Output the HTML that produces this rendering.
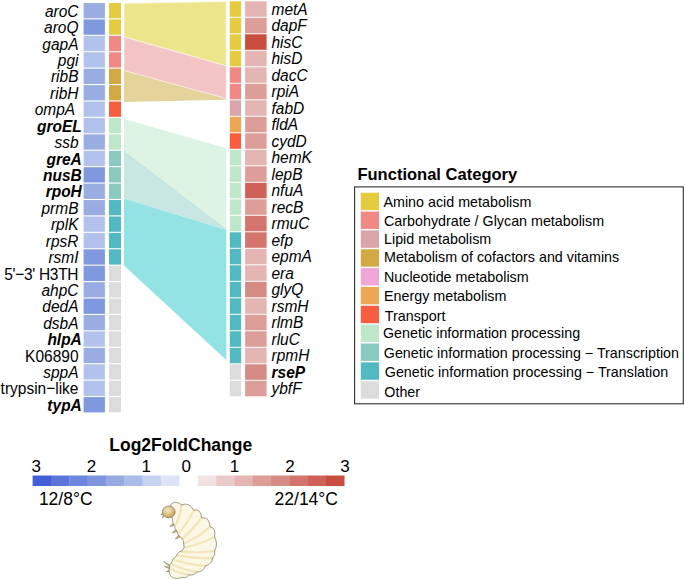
<!DOCTYPE html><html><head><meta charset="utf-8"><style>html,body{margin:0;padding:0;background:#fff;}body{width:685px;height:580px;overflow:hidden;}svg{display:block;}text{font-family:"Liberation Sans", sans-serif;}</style></head><body>
<svg width="685" height="580" viewBox="0 0 685 580">
<rect width="685" height="580" fill="#fff"/>
<polygon points="124.0,3.3 226.3,1.6 226.3,65.9 124.0,36.9" fill="#ECE58C" stroke="#fff" stroke-width="0.5"/>
<polygon points="124.0,70.5 226.3,98.5 226.3,99.7 124.0,102.0" fill="#E5D39C"/>
<polygon points="124.0,36.9 226.3,65.9 226.3,98.5 124.0,70.5" fill="#F2C4C5" stroke="#fff" stroke-width="0.5"/>
<polygon points="124.0,118.9 226.3,148.2 226.3,229.7 124.0,151.7" fill="#DDF3E3"/>
<polygon points="124.0,151.7 226.3,229.7 226.3,229.9 124.0,198.6" fill="#C8E7E3"/>
<polygon points="124.0,198.6 226.3,229.9 226.3,360.0 124.0,265.4" fill="#93E3E4"/>
<line x1="124.0" y1="151.7" x2="226.3" y2="229.7" stroke="#B2DDD6" stroke-width="0.7"/>
<rect x="83.6" y="3.00" width="21.3" height="15.3" fill="#9AADE3"/>
<rect x="109.0" y="3.00" width="12.0" height="15.3" fill="#E5CB3F"/>
<text x="78.50" y="16.80" font-size="15.5" text-anchor="end" font-style="italic" transform="translate(0 16.80) scale(1 1.1) translate(0 -16.80)">aroC</text>
<rect x="83.6" y="19.42" width="21.3" height="15.3" fill="#7F98DE"/>
<rect x="109.0" y="19.42" width="12.0" height="15.3" fill="#E5CB3F"/>
<text x="78.50" y="33.22" font-size="15.5" text-anchor="end" font-style="italic" transform="translate(0 33.22) scale(1 1.1) translate(0 -33.22)">aroQ</text>
<rect x="83.6" y="35.84" width="21.3" height="15.3" fill="#B2C2EC"/>
<rect x="109.0" y="35.84" width="12.0" height="15.3" fill="#F08985"/>
<text x="78.50" y="49.64" font-size="15.5" text-anchor="end" font-style="italic" transform="translate(0 49.64) scale(1 1.1) translate(0 -49.64)">gapA</text>
<rect x="83.6" y="52.26" width="21.3" height="15.3" fill="#B2C2EC"/>
<rect x="109.0" y="52.26" width="12.0" height="15.3" fill="#F08985"/>
<text x="78.50" y="66.06" font-size="15.5" text-anchor="end" font-style="italic" transform="translate(0 66.06) scale(1 1.1) translate(0 -66.06)">pgi</text>
<rect x="83.6" y="68.68" width="21.3" height="15.3" fill="#9AADE3"/>
<rect x="109.0" y="68.68" width="12.0" height="15.3" fill="#D3A944"/>
<text x="78.50" y="82.48" font-size="15.5" text-anchor="end" font-style="italic" transform="translate(0 82.48) scale(1 1.1) translate(0 -82.48)">ribB</text>
<rect x="83.6" y="85.10" width="21.3" height="15.3" fill="#9AADE3"/>
<rect x="109.0" y="85.10" width="12.0" height="15.3" fill="#D3A944"/>
<text x="78.50" y="98.90" font-size="15.5" text-anchor="end" font-style="italic" transform="translate(0 98.90) scale(1 1.1) translate(0 -98.90)">ribH</text>
<rect x="83.6" y="101.52" width="21.3" height="15.3" fill="#B2C2EC"/>
<rect x="109.0" y="101.52" width="12.0" height="15.3" fill="#F75D3E"/>
<text x="75.20" y="115.32" font-size="15.5" text-anchor="end" font-style="italic" transform="translate(0 115.32) scale(1 1.1) translate(0 -115.32)">ompA</text>
<rect x="83.6" y="117.94" width="21.3" height="15.3" fill="#B2C2EC"/>
<rect x="109.0" y="117.94" width="12.0" height="15.3" fill="#BDE7C8"/>
<text x="81.80" y="131.74" font-size="15.5" text-anchor="end" font-style="italic" font-weight="bold" transform="translate(0 131.74) scale(1 1.1) translate(0 -131.74)">groEL</text>
<rect x="83.6" y="134.36" width="21.3" height="15.3" fill="#9AADE3"/>
<rect x="109.0" y="134.36" width="12.0" height="15.3" fill="#BDE7C8"/>
<text x="78.50" y="148.16" font-size="15.5" text-anchor="end" font-style="italic" transform="translate(0 148.16) scale(1 1.1) translate(0 -148.16)">ssb</text>
<rect x="83.6" y="150.78" width="21.3" height="15.3" fill="#B2C2EC"/>
<rect x="109.0" y="150.78" width="12.0" height="15.3" fill="#8AC9C0"/>
<text x="81.80" y="164.58" font-size="15.5" text-anchor="end" font-style="italic" font-weight="bold" transform="translate(0 164.58) scale(1 1.1) translate(0 -164.58)">greA</text>
<rect x="83.6" y="167.20" width="21.3" height="15.3" fill="#7F98DE"/>
<rect x="109.0" y="167.20" width="12.0" height="15.3" fill="#8AC9C0"/>
<text x="81.80" y="181.00" font-size="15.5" text-anchor="end" font-style="italic" font-weight="bold" transform="translate(0 181.00) scale(1 1.1) translate(0 -181.00)">nusB</text>
<rect x="83.6" y="183.62" width="21.3" height="15.3" fill="#9AADE3"/>
<rect x="109.0" y="183.62" width="12.0" height="15.3" fill="#8AC9C0"/>
<text x="81.80" y="197.42" font-size="15.5" text-anchor="end" font-style="italic" font-weight="bold" transform="translate(0 197.42) scale(1 1.1) translate(0 -197.42)">rpoH</text>
<rect x="83.6" y="200.04" width="21.3" height="15.3" fill="#9AADE3"/>
<rect x="109.0" y="200.04" width="12.0" height="15.3" fill="#52B8C1"/>
<text x="78.50" y="213.84" font-size="15.5" text-anchor="end" font-style="italic" transform="translate(0 213.84) scale(1 1.1) translate(0 -213.84)">prmB</text>
<rect x="83.6" y="216.46" width="21.3" height="15.3" fill="#B2C2EC"/>
<rect x="109.0" y="216.46" width="12.0" height="15.3" fill="#52B8C1"/>
<text x="78.50" y="230.26" font-size="15.5" text-anchor="end" font-style="italic" transform="translate(0 230.26) scale(1 1.1) translate(0 -230.26)">rplK</text>
<rect x="83.6" y="232.88" width="21.3" height="15.3" fill="#B2C2EC"/>
<rect x="109.0" y="232.88" width="12.0" height="15.3" fill="#52B8C1"/>
<text x="78.50" y="246.68" font-size="15.5" text-anchor="end" font-style="italic" transform="translate(0 246.68) scale(1 1.1) translate(0 -246.68)">rpsR</text>
<rect x="83.6" y="249.30" width="21.3" height="15.3" fill="#7F98DE"/>
<rect x="109.0" y="249.30" width="12.0" height="15.3" fill="#52B8C1"/>
<text x="78.50" y="263.10" font-size="15.5" text-anchor="end" font-style="italic" transform="translate(0 263.10) scale(1 1.1) translate(0 -263.10)">rsmI</text>
<rect x="83.6" y="265.72" width="21.3" height="15.3" fill="#7F98DE"/>
<rect x="109.0" y="265.72" width="12.0" height="15.3" fill="#DCDCDC"/>
<text x="78.50" y="279.52" font-size="15.5" text-anchor="end" textLength="74.2" lengthAdjust="spacing"  transform="translate(0 279.52) scale(1 1.1) translate(0 -279.52)">5'−3' H3TH</text>
<rect x="83.6" y="282.14" width="21.3" height="15.3" fill="#9AADE3"/>
<rect x="109.0" y="282.14" width="12.0" height="15.3" fill="#DCDCDC"/>
<text x="78.50" y="295.94" font-size="15.5" text-anchor="end" font-style="italic" transform="translate(0 295.94) scale(1 1.1) translate(0 -295.94)">ahpC</text>
<rect x="83.6" y="298.56" width="21.3" height="15.3" fill="#7F98DE"/>
<rect x="109.0" y="298.56" width="12.0" height="15.3" fill="#DCDCDC"/>
<text x="78.50" y="312.36" font-size="15.5" text-anchor="end" font-style="italic" transform="translate(0 312.36) scale(1 1.1) translate(0 -312.36)">dedA</text>
<rect x="83.6" y="314.98" width="21.3" height="15.3" fill="#9AADE3"/>
<rect x="109.0" y="314.98" width="12.0" height="15.3" fill="#DCDCDC"/>
<text x="78.50" y="328.78" font-size="15.5" text-anchor="end" font-style="italic" transform="translate(0 328.78) scale(1 1.1) translate(0 -328.78)">dsbA</text>
<rect x="83.6" y="331.40" width="21.3" height="15.3" fill="#B2C2EC"/>
<rect x="109.0" y="331.40" width="12.0" height="15.3" fill="#DCDCDC"/>
<text x="81.80" y="345.20" font-size="15.5" text-anchor="end" font-style="italic" font-weight="bold" transform="translate(0 345.20) scale(1 1.1) translate(0 -345.20)">hlpA</text>
<rect x="83.6" y="347.82" width="21.3" height="15.3" fill="#9AADE3"/>
<rect x="109.0" y="347.82" width="12.0" height="15.3" fill="#DCDCDC"/>
<text x="78.50" y="361.62" font-size="15.5" text-anchor="end"  transform="translate(0 361.62) scale(1 1.1) translate(0 -361.62)">K06890</text>
<rect x="83.6" y="364.24" width="21.3" height="15.3" fill="#B2C2EC"/>
<rect x="109.0" y="364.24" width="12.0" height="15.3" fill="#DCDCDC"/>
<text x="78.50" y="378.04" font-size="15.5" text-anchor="end" font-style="italic" transform="translate(0 378.04) scale(1 1.1) translate(0 -378.04)">sppA</text>
<rect x="83.6" y="380.66" width="21.3" height="15.3" fill="#B2C2EC"/>
<rect x="109.0" y="380.66" width="12.0" height="15.3" fill="#DCDCDC"/>
<text x="78.50" y="394.46" font-size="15.5" text-anchor="end"  transform="translate(0 394.46) scale(1 1.1) translate(0 -394.46)">trypsin−like</text>
<rect x="83.6" y="397.08" width="21.3" height="15.3" fill="#7F98DE"/>
<rect x="109.0" y="397.08" width="12.0" height="15.3" fill="#DCDCDC"/>
<text x="81.80" y="410.88" font-size="15.5" text-anchor="end" font-style="italic" font-weight="bold" transform="translate(0 410.88) scale(1 1.1) translate(0 -410.88)">typA</text>
<rect x="229.8" y="1.30" width="11.2" height="15.5" fill="#E5CB3F"/>
<rect x="245.1" y="1.30" width="21.5" height="15.5" fill="#E4B5B2"/>
<text x="271.5" y="14.70" font-size="15.5" font-style="italic" transform="translate(0 14.70) scale(1 1.01) translate(0 -14.70)">metA</text>
<rect x="229.8" y="17.80" width="11.2" height="15.5" fill="#E5CB3F"/>
<rect x="245.1" y="17.80" width="21.5" height="15.5" fill="#DD9E9A"/>
<text x="271.5" y="31.20" font-size="15.5" font-style="italic" transform="translate(0 31.20) scale(1 1.01) translate(0 -31.20)">dapF</text>
<rect x="229.8" y="34.30" width="11.2" height="15.5" fill="#E5CB3F"/>
<rect x="245.1" y="34.30" width="21.5" height="15.5" fill="#CA4E3F"/>
<text x="271.5" y="47.70" font-size="15.5" font-style="italic" transform="translate(0 47.70) scale(1 1.01) translate(0 -47.70)">hisC</text>
<rect x="229.8" y="50.80" width="11.2" height="15.5" fill="#E5CB3F"/>
<rect x="245.1" y="50.80" width="21.5" height="15.5" fill="#E4B5B2"/>
<text x="271.5" y="64.20" font-size="15.5" font-style="italic" transform="translate(0 64.20) scale(1 1.01) translate(0 -64.20)">hisD</text>
<rect x="229.8" y="67.30" width="11.2" height="15.5" fill="#F08985"/>
<rect x="245.1" y="67.30" width="21.5" height="15.5" fill="#E4B5B2"/>
<text x="271.5" y="80.70" font-size="15.5" font-style="italic" transform="translate(0 80.70) scale(1 1.01) translate(0 -80.70)">dacC</text>
<rect x="229.8" y="83.80" width="11.2" height="15.5" fill="#F08985"/>
<rect x="245.1" y="83.80" width="21.5" height="15.5" fill="#DD9E9A"/>
<text x="271.5" y="97.20" font-size="15.5" font-style="italic" transform="translate(0 97.20) scale(1 1.01) translate(0 -97.20)">rpiA</text>
<rect x="229.8" y="100.30" width="11.2" height="15.5" fill="#D9A5A9"/>
<rect x="245.1" y="100.30" width="21.5" height="15.5" fill="#E4B5B2"/>
<text x="271.5" y="113.70" font-size="15.5" font-style="italic" transform="translate(0 113.70) scale(1 1.01) translate(0 -113.70)">fabD</text>
<rect x="229.8" y="116.80" width="11.2" height="15.5" fill="#EDA653"/>
<rect x="245.1" y="116.80" width="21.5" height="15.5" fill="#DD9E9A"/>
<text x="271.5" y="130.20" font-size="15.5" font-style="italic" transform="translate(0 130.20) scale(1 1.01) translate(0 -130.20)">fldA</text>
<rect x="229.8" y="133.30" width="11.2" height="15.5" fill="#F75D3E"/>
<rect x="245.1" y="133.30" width="21.5" height="15.5" fill="#DD9E9A"/>
<text x="271.5" y="146.70" font-size="15.5" font-style="italic" transform="translate(0 146.70) scale(1 1.01) translate(0 -146.70)">cydD</text>
<rect x="229.8" y="149.80" width="11.2" height="15.5" fill="#BDE7C8"/>
<rect x="245.1" y="149.80" width="21.5" height="15.5" fill="#E4B5B2"/>
<text x="271.5" y="163.20" font-size="15.5" font-style="italic" transform="translate(0 163.20) scale(1 1.01) translate(0 -163.20)">hemK</text>
<rect x="229.8" y="166.30" width="11.2" height="15.5" fill="#BDE7C8"/>
<rect x="245.1" y="166.30" width="21.5" height="15.5" fill="#DD9E9A"/>
<text x="271.5" y="179.70" font-size="15.5" font-style="italic" transform="translate(0 179.70) scale(1 1.01) translate(0 -179.70)">lepB</text>
<rect x="229.8" y="182.80" width="11.2" height="15.5" fill="#BDE7C8"/>
<rect x="245.1" y="182.80" width="21.5" height="15.5" fill="#CF6158"/>
<text x="271.5" y="196.20" font-size="15.5" font-style="italic" transform="translate(0 196.20) scale(1 1.01) translate(0 -196.20)">nfuA</text>
<rect x="229.8" y="199.30" width="11.2" height="15.5" fill="#BDE7C8"/>
<rect x="245.1" y="199.30" width="21.5" height="15.5" fill="#DD9E9A"/>
<text x="271.5" y="212.70" font-size="15.5" font-style="italic" transform="translate(0 212.70) scale(1 1.01) translate(0 -212.70)">recB</text>
<rect x="229.8" y="215.80" width="11.2" height="15.5" fill="#BDE7C8"/>
<rect x="245.1" y="215.80" width="21.5" height="15.5" fill="#D3756D"/>
<text x="271.5" y="229.20" font-size="15.5" font-style="italic" transform="translate(0 229.20) scale(1 1.01) translate(0 -229.20)">rmuC</text>
<rect x="229.8" y="232.30" width="11.2" height="15.5" fill="#52B8C1"/>
<rect x="245.1" y="232.30" width="21.5" height="15.5" fill="#D3756D"/>
<text x="271.5" y="245.70" font-size="15.5" font-style="italic" transform="translate(0 245.70) scale(1 1.01) translate(0 -245.70)">efp</text>
<rect x="229.8" y="248.80" width="11.2" height="15.5" fill="#52B8C1"/>
<rect x="245.1" y="248.80" width="21.5" height="15.5" fill="#E4B5B2"/>
<text x="271.5" y="262.20" font-size="15.5" font-style="italic" transform="translate(0 262.20) scale(1 1.01) translate(0 -262.20)">epmA</text>
<rect x="229.8" y="265.30" width="11.2" height="15.5" fill="#52B8C1"/>
<rect x="245.1" y="265.30" width="21.5" height="15.5" fill="#E4B5B2"/>
<text x="271.5" y="278.70" font-size="15.5" font-style="italic" transform="translate(0 278.70) scale(1 1.01) translate(0 -278.70)">era</text>
<rect x="229.8" y="281.80" width="11.2" height="15.5" fill="#52B8C1"/>
<rect x="245.1" y="281.80" width="21.5" height="15.5" fill="#D68A84"/>
<text x="271.5" y="295.20" font-size="15.5" font-style="italic" transform="translate(0 295.20) scale(1 1.01) translate(0 -295.20)">glyQ</text>
<rect x="229.8" y="298.30" width="11.2" height="15.5" fill="#52B8C1"/>
<rect x="245.1" y="298.30" width="21.5" height="15.5" fill="#E4B5B2"/>
<text x="271.5" y="311.70" font-size="15.5" font-style="italic" transform="translate(0 311.70) scale(1 1.01) translate(0 -311.70)">rsmH</text>
<rect x="229.8" y="314.80" width="11.2" height="15.5" fill="#52B8C1"/>
<rect x="245.1" y="314.80" width="21.5" height="15.5" fill="#DD9E9A"/>
<text x="271.5" y="328.20" font-size="15.5" font-style="italic" transform="translate(0 328.20) scale(1 1.01) translate(0 -328.20)">rlmB</text>
<rect x="229.8" y="331.30" width="11.2" height="15.5" fill="#52B8C1"/>
<rect x="245.1" y="331.30" width="21.5" height="15.5" fill="#DD9E9A"/>
<text x="271.5" y="344.70" font-size="15.5" font-style="italic" transform="translate(0 344.70) scale(1 1.01) translate(0 -344.70)">rluC</text>
<rect x="229.8" y="347.80" width="11.2" height="15.5" fill="#52B8C1"/>
<rect x="245.1" y="347.80" width="21.5" height="15.5" fill="#E4B5B2"/>
<text x="271.5" y="361.20" font-size="15.5" font-style="italic" transform="translate(0 361.20) scale(1 1.01) translate(0 -361.20)">rpmH</text>
<rect x="229.8" y="364.30" width="11.2" height="15.5" fill="#DCDCDC"/>
<rect x="245.1" y="364.30" width="21.5" height="15.5" fill="#D68A84"/>
<text x="271.5" y="377.70" font-size="15.5" font-style="italic" font-weight="bold" transform="translate(0 377.70) scale(1 1.01) translate(0 -377.70)">rseP</text>
<rect x="229.8" y="380.80" width="11.2" height="15.5" fill="#DCDCDC"/>
<rect x="245.1" y="380.80" width="21.5" height="15.5" fill="#DD9E9A"/>
<text x="271.5" y="394.20" font-size="15.5" font-style="italic" transform="translate(0 394.20) scale(1 1.01) translate(0 -394.20)">ybfF</text>
<text x="357.4" y="179.5" font-size="16.55" font-weight="bold">Functional Category</text>
<rect x="354.6" y="186.9" width="328.7" height="216.9" fill="none" stroke="#2E2E2E" stroke-width="1.1"/>
<rect x="360.8" y="192.70" width="18.2" height="17.4" fill="#E5CB3F"/>
<text x="383.50" y="207.30" font-size="14.3">Amino acid metabolism</text>
<rect x="360.8" y="211.55" width="18.2" height="17.4" fill="#F08985"/>
<text x="384.00" y="225.55" font-size="14.3">Carbohydrate / Glycan metabolism</text>
<rect x="360.8" y="230.40" width="18.2" height="17.4" fill="#D9A5A9"/>
<text x="384.00" y="243.80" font-size="14.3">Lipid metabolism</text>
<rect x="360.8" y="249.25" width="18.2" height="17.4" fill="#D3A944"/>
<text x="384.00" y="262.25" font-size="14.3">Metabolism of cofactors and vitamins</text>
<rect x="360.8" y="268.10" width="18.2" height="17.4" fill="#F2A6D8"/>
<text x="384.00" y="281.60" font-size="14.3">Nucleotide metabolism</text>
<rect x="360.8" y="286.95" width="18.2" height="17.4" fill="#EDA653"/>
<text x="384.00" y="301.35" font-size="14.3">Energy metabolism</text>
<rect x="360.8" y="305.80" width="18.2" height="17.4" fill="#F75D3E"/>
<text x="384.80" y="321.20" font-size="14.3">Transport</text>
<rect x="360.8" y="324.65" width="18.2" height="17.4" fill="#BDE7C8"/>
<text x="383.00" y="338.05" font-size="14.3">Genetic information processing</text>
<rect x="360.8" y="343.50" width="18.2" height="17.4" fill="#8AC9C0"/>
<text x="383.80" y="358.40" font-size="14.3">Genetic information processing − Transcription</text>
<rect x="360.8" y="362.35" width="18.2" height="17.4" fill="#52B8C1"/>
<text x="384.80" y="377.25" font-size="14.3">Genetic information processing − Translation</text>
<rect x="360.8" y="381.20" width="18.2" height="17.4" fill="#DCDCDC"/>
<text x="384.30" y="396.80" font-size="14.3">Other</text>
<text x="109.3" y="451" font-size="17.5" font-weight="bold">Log2FoldChange</text>
<rect x="32.60" y="475.5" width="18.62" height="10.5" fill="#4560D6"/>
<rect x="50.92" y="475.5" width="18.62" height="10.5" fill="#5A74DA"/>
<rect x="69.25" y="475.5" width="18.62" height="10.5" fill="#6D86DD"/>
<rect x="87.57" y="475.5" width="18.62" height="10.5" fill="#7E95DE"/>
<rect x="105.90" y="475.5" width="18.62" height="10.5" fill="#97A9E0"/>
<rect x="124.22" y="475.5" width="18.62" height="10.5" fill="#ABBCEB"/>
<rect x="142.55" y="475.5" width="18.62" height="10.5" fill="#C6D3F0"/>
<rect x="160.88" y="475.5" width="18.62" height="10.5" fill="#DDE4F5"/>
<rect x="197.90" y="475.5" width="18.59" height="10.5" fill="#F2E2E1"/>
<rect x="216.19" y="475.5" width="18.59" height="10.5" fill="#EBCACA"/>
<rect x="234.47" y="475.5" width="18.59" height="10.5" fill="#E4B5B2"/>
<rect x="252.76" y="475.5" width="18.59" height="10.5" fill="#DD9E9A"/>
<rect x="271.05" y="475.5" width="18.59" height="10.5" fill="#D68A84"/>
<rect x="289.34" y="475.5" width="18.59" height="10.5" fill="#D3756D"/>
<rect x="307.62" y="475.5" width="18.59" height="10.5" fill="#CF6158"/>
<rect x="325.91" y="475.5" width="18.59" height="10.5" fill="#CA4E3F"/>
<text x="36.2" y="472" font-size="17" text-anchor="middle">3</text>
<text x="91.4" y="472" font-size="17" text-anchor="middle">2</text>
<text x="146.3" y="472" font-size="17" text-anchor="middle">1</text>
<text x="186.2" y="472" font-size="17" text-anchor="middle">0</text>
<text x="234.5" y="472" font-size="17" text-anchor="middle">1</text>
<text x="289.9" y="472" font-size="17" text-anchor="middle">2</text>
<text x="344.9" y="472" font-size="17" text-anchor="middle">3</text>
<text x="38.9" y="504.7" font-size="17.5">12/8°C</text>
<text x="338" y="504.7" font-size="17.5" text-anchor="end">22/14°C</text>
<g>
<path d="M173.8,522.5 L169.8,526.5 L175.2,525.2 Z" fill="#D2B477" stroke="#6F6A58" stroke-width="0.45" stroke-linejoin="round"/>
<path d="M176.3,528.5 L172.3,533 L177.8,531.3 Z" fill="#D2B477" stroke="#6F6A58" stroke-width="0.45" stroke-linejoin="round"/>
<path d="M178.8,534.5 L175.3,539 L180.3,537.3 Z" fill="#D2B477" stroke="#6F6A58" stroke-width="0.45" stroke-linejoin="round"/>
<path d="M170.8,565.5 L163.5,561.5 L170.3,567.5 Z" fill="#D2B477" stroke="#6F6A58" stroke-width="0.45" stroke-linejoin="round"/>
<path d="M170.5,567.5 L164.2,566.2 L170.3,569.5 Z" fill="#D2B477" stroke="#6F6A58" stroke-width="0.45" stroke-linejoin="round"/>
<path d="M170.6,569.5 L166,571.8 L171.2,571.5 Z" fill="#D2B477" stroke="#6F6A58" stroke-width="0.45" stroke-linejoin="round"/>
<path d="M170.7,504.5 Q175.5,499.8 181.6,504.9 Q189,501.8 193.8,510.2 Q201,508.5 201.5,517.8 Q209.5,516.5 210,526.8 Q216.5,528 214.5,537 Q218.5,544 214.5,551 Q215.8,555 212.6,558 Q212,564.5 205.5,565.9 Q203.5,572 196.8,572 Q194,576 188.9,574.7 Q186.5,578.8 181.9,577.3 C175.5,580 167,578.5 169.6,566.8 Q169,564 171.4,563.3 Q172,558.5 176.2,556.3 Q177.5,551.5 181.9,551 Q185.5,548 183.6,543.1 Q184,539 180.1,537 Q177.5,534.5 177,531 Q174.5,528.5 174.5,526 Q172,522 172.5,519 L171,516 Z" fill="#FDF8E5"/>
<path d="M181.6,504.9 Q180.8,515.3 175.8,524.5" fill="none" stroke="#F3E6BE" stroke-width="2.4" stroke-linecap="round" opacity="0.9"/>
<path d="M181.6,504.9 Q180.8,515.3 175.8,524.5" fill="none" stroke="#EEDDA8" stroke-width="0.8" stroke-linecap="round" opacity="0.45"/>
<path d="M193.8,510.2 Q188.2,522.7 179,532.8" fill="none" stroke="#F3E6BE" stroke-width="2.4" stroke-linecap="round" opacity="0.9"/>
<path d="M193.8,510.2 Q188.2,522.7 179,532.8" fill="none" stroke="#EEDDA8" stroke-width="0.8" stroke-linecap="round" opacity="0.45"/>
<path d="M201.5,517.8 Q193.4,529.7 182,538.5" fill="none" stroke="#F3E6BE" stroke-width="2.4" stroke-linecap="round" opacity="0.9"/>
<path d="M201.5,517.8 Q193.4,529.7 182,538.5" fill="none" stroke="#EEDDA8" stroke-width="0.8" stroke-linecap="round" opacity="0.45"/>
<path d="M210,526.8 Q198.3,537.0 184.2,543.5" fill="none" stroke="#F3E6BE" stroke-width="2.4" stroke-linecap="round" opacity="0.9"/>
<path d="M210,526.8 Q198.3,537.0 184.2,543.5" fill="none" stroke="#EEDDA8" stroke-width="0.8" stroke-linecap="round" opacity="0.45"/>
<path d="M214.5,537 Q200.1,544.3 184.2,547.5" fill="none" stroke="#F3E6BE" stroke-width="2.4" stroke-linecap="round" opacity="0.9"/>
<path d="M214.5,537 Q200.1,544.3 184.2,547.5" fill="none" stroke="#EEDDA8" stroke-width="0.8" stroke-linecap="round" opacity="0.45"/>
<path d="M214.5,551 Q198.0,553.4 181.5,551.5" fill="none" stroke="#F3E6BE" stroke-width="2.4" stroke-linecap="round" opacity="0.9"/>
<path d="M214.5,551 Q198.0,553.4 181.5,551.5" fill="none" stroke="#EEDDA8" stroke-width="0.8" stroke-linecap="round" opacity="0.45"/>
<path d="M212.6,558 Q195.1,558.9 178,555.5" fill="none" stroke="#F3E6BE" stroke-width="2.4" stroke-linecap="round" opacity="0.9"/>
<path d="M212.6,558 Q195.1,558.9 178,555.5" fill="none" stroke="#EEDDA8" stroke-width="0.8" stroke-linecap="round" opacity="0.45"/>
<path d="M205.5,565.9 Q189.6,565.0 174.5,559.8" fill="none" stroke="#F3E6BE" stroke-width="2.4" stroke-linecap="round" opacity="0.9"/>
<path d="M205.5,565.9 Q189.6,565.0 174.5,559.8" fill="none" stroke="#EEDDA8" stroke-width="0.8" stroke-linecap="round" opacity="0.45"/>
<path d="M196.8,572 Q183.6,570.1 171.8,564" fill="none" stroke="#F3E6BE" stroke-width="2.4" stroke-linecap="round" opacity="0.9"/>
<path d="M196.8,572 Q183.6,570.1 171.8,564" fill="none" stroke="#EEDDA8" stroke-width="0.8" stroke-linecap="round" opacity="0.45"/>
<path d="M188.9,574.7 Q178.9,573.7 170.2,568.5" fill="none" stroke="#F3E6BE" stroke-width="2.4" stroke-linecap="round" opacity="0.9"/>
<path d="M188.9,574.7 Q178.9,573.7 170.2,568.5" fill="none" stroke="#EEDDA8" stroke-width="0.8" stroke-linecap="round" opacity="0.45"/>
<path d="M170.7,504.5 Q175.5,499.8 181.6,504.9 Q189,501.8 193.8,510.2 Q201,508.5 201.5,517.8 Q209.5,516.5 210,526.8 Q216.5,528 214.5,537 Q218.5,544 214.5,551 Q215.8,555 212.6,558 Q212,564.5 205.5,565.9 Q203.5,572 196.8,572 Q194,576 188.9,574.7 Q186.5,578.8 181.9,577.3 C175.5,580 167,578.5 169.6,566.8 Q169,564 171.4,563.3 Q172,558.5 176.2,556.3 Q177.5,551.5 181.9,551 Q185.5,548 183.6,543.1 Q184,539 180.1,537 Q177.5,534.5 177,531 Q174.5,528.5 174.5,526 Q172,522 172.5,519 L171,516 Z" fill="none" stroke="#6F6A58" stroke-width="0.65" stroke-linejoin="round"/>
<defs><radialGradient id="hg" cx="0.4" cy="0.35" r="0.7"><stop offset="0" stop-color="#EFE6CC"/><stop offset="0.5" stop-color="#DCC58E"/><stop offset="1" stop-color="#C49A48"/></radialGradient></defs>
<ellipse cx="168.8" cy="511.9" rx="6.4" ry="5.9" fill="url(#hg)" stroke="#6E6650" stroke-width="0.6"/>
<path d="M163.2,513.5 L160.8,514.5 L163.4,515 M163.8,515.8 L161.8,517.6 L164.4,516.8" fill="#C9A35A" stroke="#8A7448" stroke-width="0.5"/>
</g>
</svg></body></html>
